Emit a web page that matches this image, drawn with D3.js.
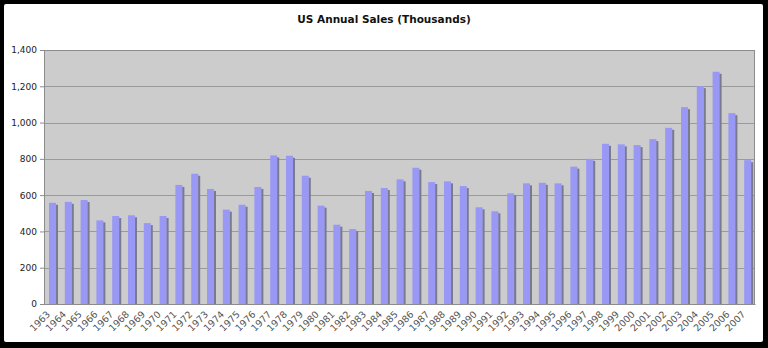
<!DOCTYPE html>
<html>
<head>
<meta charset="utf-8">
<script src="https://cdn.jsdelivr.net/npm/d3@7"></script>
<style>
  html, body { margin: 0; padding: 0; background: #000; }
  svg { display: block; }
</style>
</head>
<body>
<script>
// Annual sales, thousands of units
const years = d3.range(1963, 2008).map(String);
const sales = [
  558, 563, 573, 461, 485, 489, 446, 485, 656, 718,
  634, 520, 547, 645, 819, 817, 707, 542, 437, 413,
  623, 639, 687, 751, 672, 676, 650, 533, 511, 610,
  665, 668, 665, 757, 800, 883, 880, 876, 909, 971,
  1085, 1201, 1280, 1052, 793
];
const yTicks = [0, 200, 400, 600, 800, 1000, 1200, 1400];
const title = "US Annual Sales (Thousands)";

const W = 768, H = 348;
const plot = { left: 44, right: 755, top: 50, bottom: 304 };

const svg = d3.select("body").append("svg")
  .attr("width", W).attr("height", H);

// black frame with white canvas
svg.append("rect").attr("width", W).attr("height", H).attr("fill", "#000");
svg.append("rect").attr("x", 4).attr("y", 4).attr("width", 759).attr("height", 338)
  .attr("rx", 2).attr("fill", "#fff");

const x = d3.scaleBand().domain(years).range([plot.left, plot.right]).padding(0);
const y = d3.scaleLinear().domain([0, 1400]).range([plot.bottom, plot.top]);

svg.append("text")
  .attr("x", 384).attr("y", 23)
  .attr("text-anchor", "middle")
  .attr("font-family", "DejaVu Sans, Verdana, sans-serif")
  .attr("font-weight", "bold")
  .attr("font-size", 10.5)
  .attr("fill", "#111")
  .text(title);

// plot background
svg.append("rect")
  .attr("x", plot.left).attr("y", plot.top)
  .attr("width", plot.right - plot.left).attr("height", plot.bottom - plot.top)
  .attr("fill", "#cccccc");

// gridlines
svg.append("g").selectAll("line").data(yTicks.filter(d => d > 0)).join("line")
  .attr("x1", plot.left).attr("x2", plot.right)
  .attr("y1", d => Math.round(y(d)) + 0.5).attr("y2", d => Math.round(y(d)) + 0.5)
  .attr("stroke", "#9a9a9a").attr("stroke-width", 1);

// bars: shadow behind, face in front
const bw = 7, sh = 2.5;
const bars = svg.append("g");
bars.selectAll("rect.shadow").data(sales).join("rect")
  .attr("class", "shadow")
  .attr("x", (d, i) => x(years[i]) + 5 + bw - 0.5)
  .attr("y", d => y(d) + 2)
  .attr("width", sh)
  .attr("height", d => plot.bottom - y(d) - 2)
  .attr("fill", "#7a7a8e");
bars.selectAll("rect.face").data(sales).join("rect")
  .attr("class", "face")
  .attr("x", (d, i) => x(years[i]) + 5)
  .attr("y", d => y(d))
  .attr("width", bw)
  .attr("height", d => plot.bottom - y(d))
  .attr("fill", "#9999f5");

// plot frame
svg.append("rect")
  .attr("x", plot.left + 0.5).attr("y", plot.top + 0.5)
  .attr("width", plot.right - plot.left - 1).attr("height", plot.bottom - plot.top)
  .attr("fill", "none").attr("stroke", "#8c8c8c").attr("stroke-width", 1);

// y axis
const yAxis = svg.append("g")
  .attr("transform", `translate(${plot.left},0)`)
  .call(d3.axisLeft(y).tickValues(yTicks).tickSize(4).tickPadding(3)
    .tickFormat(d3.format(",")));
yAxis.select(".domain").remove();
yAxis.selectAll("line").attr("stroke", "#8c8c8c");
yAxis.selectAll("text")
  .attr("font-family", "DejaVu Sans, Verdana, sans-serif")
  .attr("font-size", 9).attr("fill", "#222");

// x axis with slanted year labels
const xAxis = svg.append("g")
  .attr("transform", `translate(0,${plot.bottom})`)
  .call(d3.axisBottom(x).tickSize(0).tickPadding(0));
xAxis.select(".domain").attr("stroke", "#8c8c8c");
xAxis.selectAll("text")
  .attr("font-family", "DejaVu Sans, Verdana, sans-serif")
  .attr("font-size", 9.5).attr("fill", "#555")
  .attr("text-anchor", "end")
  .attr("dy", null).attr("y", 0)
  .attr("transform", "translate(-1,11) rotate(-45)");
</script>
</body>
</html>
